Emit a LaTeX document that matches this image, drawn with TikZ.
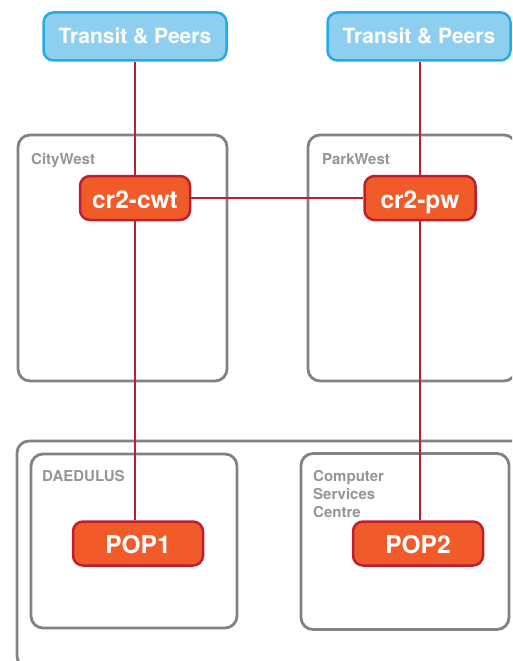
\documentclass[tikz,border=0pt]{standalone}
\usepackage{fontspec}
\setmainfont{TeX Gyre Heros}
\usetikzlibrary{positioning}

\definecolor{peerfill}{HTML}{8ECFF0}
\definecolor{peerblue}{HTML}{27AAE1}
\definecolor{routerfill}{HTML}{F15A29}
\definecolor{linkred}{HTML}{BE1E2D}
\definecolor{sitegray}{HTML}{808285}
\definecolor{labelgray}{HTML}{939598}

\tikzset{
  site/.style={draw=sitegray,line width=2.8pt,rounded corners=12pt,inner sep=0pt},
  transit/.style={draw=peerblue,fill=peerfill,line width=2.5pt,rounded corners=10pt,
    text=white,font=\bfseries\fontsize{21}{24}\selectfont,
    text height=15pt,text depth=0pt,
    minimum width=183pt,minimum height=48pt},
  router/.style={draw=linkred,fill=routerfill,line width=2.5pt,rounded corners=10pt,
    text=white,font=\bfseries\fontsize{24.5}{28}\selectfont,
    text height=20pt,text depth=0pt,minimum height=44pt},
  sitelabel/.style={text=labelgray,font=\bfseries\fontsize{15}{18.3}\selectfont,
    anchor=north west,inner sep=0pt,align=left},
  link/.style={draw=linkred,line width=2.5pt}
}

\begin{document}
\begin{tikzpicture}[x=1pt,y=-1pt]
\clip (0,0) rectangle (512,661);

% sites
\node[site,minimum width=209pt,minimum height=246pt] (cw) at (122.5,258) {};
\node[site,minimum width=208pt,minimum height=246pt] (pw) at (412,258) {};
\node[site,minimum width=513pt,minimum height=227pt] (campus) at (273.5,554.5) {};
\node[site,minimum width=206pt,minimum height=174pt] (dae) at (134,541) {};
\node[site,minimum width=208pt,minimum height=176pt] (csc) at (405,541.5) {};

\node[sitelabel] (cwlabel) at (31,153) {CityWest};
\node[sitelabel] (pwlabel) at (322,153) {ParkWest};
\node[sitelabel] (daelabel) at (42,470) {DAEDULUS};
\node[sitelabel] (csclabel) at (313,470) {Computer\\Services\\Centre};

% upstreams
\node[transit] (tp1) at (135,36.5) {Transit \& Peers};
\node[transit] (tp2) at (419,36.5) {Transit \& Peers};

% routers
\node[router,minimum width=110pt] (cwt) at (135,198) {cr2-cwt};
\node[router,minimum width=111pt] (crpw) at (420,198) {cr2-pw};
\node[router,minimum width=130pt] (pop1) at (138,543.5) {POP1};
\node[router,minimum width=130pt] (pop2) at (418,543.5) {POP2};

% links
\draw[link] (tp1.south) -- (cwt.north);
\draw[link] (tp2.south -| crpw.north) -- (crpw.north);
\draw[link] (cwt) -- (crpw);
\draw[link] (cwt.south) -- (cwt.south |- pop1.north);
\draw[link] (crpw.south) -- (crpw.south |- pop2.north);
\end{tikzpicture}
\end{document}
